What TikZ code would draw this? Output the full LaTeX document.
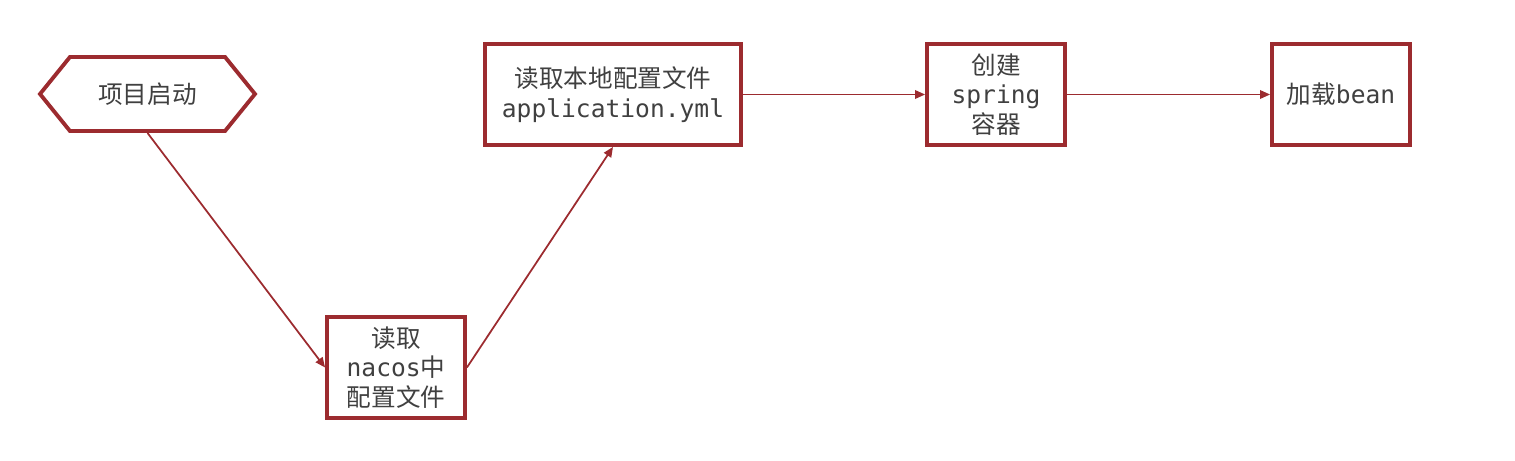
\documentclass[tikz,border=0pt]{standalone}
\usepackage{fontspec}
\newfontfamily\cjk{Noto Sans CJK SC}
\setmonofont{DejaVu Sans Mono}
\usepackage{xcolor}
\definecolor{boxred}{HTML}{9C2B2F}
\definecolor{textgray}{HTML}{404040}
\usepackage{tikz}
\usetikzlibrary{positioning, arrows.meta, shapes.symbols}

\begin{document}
\begin{tikzpicture}[
  stepbox/.style={draw=boxred, line width=2.2pt, fill=white,
                  minimum width=2.76cm, minimum height=2.02cm,
                  align=center, text=textgray, inner sep=2pt,
                  font=\fontsize{14}{16.8}\selectfont},
  startbox/.style={signal, signal to=west and east, signal pointer angle=102,
                   draw=boxred, line width=2.2pt, fill=white,
                   minimum width=4.3cm, minimum height=1.48cm,
                   text=textgray, font=\fontsize{14}{16.8}\selectfont},
  flow/.style={draw=boxred, line width=1pt,
               -{Triangle[length=0.2cm, width=0.17cm]}},
]
\useasboundingbox (0,0) rectangle (30.3,9.2);

% Nodes
\node[startbox] (start) at (2.95, 7.32) {\cjk 项目启动};
\node[stepbox] (nacos) at (7.92, 1.85) {{\cjk 读取}\\{\ttfamily nacos}{\cjk 中}\\{\cjk 配置文件}};
\node[stepbox, minimum width=5.12cm] (local) at (12.26, 7.31) {{\cjk 读取本地配置文件}\\{\ttfamily application.yml}};
\node[stepbox] (spring) at (19.92, 7.31) {{\cjk 创建}\\{\ttfamily spring}\\{\cjk 容器}};
\node[stepbox] (bean) at (26.82, 7.31) {{\cjk 加载}{\ttfamily bean}};

% Connectors
\draw[flow] (start.south) -- (nacos.west);
\draw[flow] (nacos.east) -- (local.south);
\draw[flow] (local.east) -- (spring.west);
\draw[flow] (spring.east) -- (bean.west);
\end{tikzpicture}
\end{document}
